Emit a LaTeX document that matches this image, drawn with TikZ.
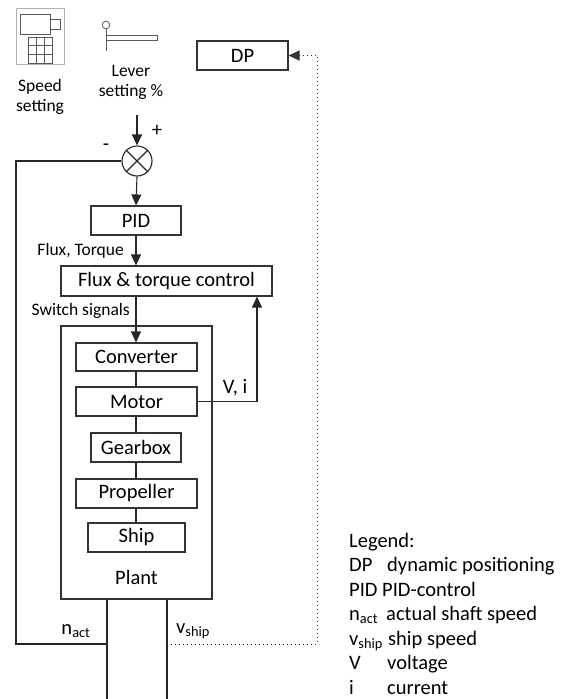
\documentclass[tikz,border=0pt]{standalone}
\usepackage{fontspec}
\setmainfont{Carlito}
\usetikzlibrary{arrows.meta}
\newcommand\fL{\fontsize{20.5}{24.5}\selectfont}
\newcommand\fS{\fontsize{17.5}{20}\selectfont}
\begin{document}
\begin{tikzpicture}[x=1pt,y=-1pt,
  bx/.style={draw=black!80, line width=1.1pt, inner sep=0pt, font=\fL},
  conn/.style={draw=black!85, line width=1.1pt},
  arr/.style={conn, -{Triangle[length=11pt,width=10pt]}},
  dots/.style={draw=black!80, line width=1pt, dash pattern=on 0.8pt off 3.2pt, -{Triangle[length=11pt,width=10pt]}},
  lbl/.style={inner sep=0pt, font=\fL},
  slbl/.style={inner sep=0pt, font=\fS, align=center},
  icon/.style={draw=black!65, line width=0.8pt}]
\useasboundingbox (0,0) rectangle (567,699);

% speed setting icon
\draw[draw=black!30, line width=0.8pt] (16,8) rectangle (64,64);
\draw[icon] (20,14) rectangle (50,34);
\draw[icon] (50,19) rectangle (60,29);
\draw[icon] (28,37) rectangle (52,63);
\draw[icon] (36,37) -- (36,63) (44,37) -- (44,63) (28,45.7) -- (52,45.7) (28,54.3) -- (52,54.3);
\node[slbl] (speed) at (40,97) {Speed\\setting};

% lever icon
\draw[icon] (106,25) circle (3.8);
\draw[icon] (106,28.8) -- (106,51);
\draw[icon] (106,35) rectangle (157,40);
\node[slbl] (lever) at (131,82) {Lever\\setting \%};

% DP
\node[bx, minimum width=91, minimum height=29] (dp) at (242.5,55.5) {DP};

% summation
\node[circle, draw=black!85, line width=1.1pt, minimum size=30, inner sep=0pt] (sum) at (137,161) {};
\draw[conn] (sum.north west) -- (sum.south east) (sum.north east) -- (sum.south west);
\coordinate (in) at (137,115);
\draw[arr] (in) -- (sum.north);
\node[lbl] (plus) at (157,131) {+};
\node[lbl] (minus) at (106,147) {-};

% PID
\node[bx, minimum width=90, minimum height=29] (pid) at (136,220.5) {PID};
\draw[arr] (sum.south) -- (pid.north);

% flux
\node[bx, minimum width=211, minimum height=30] (flux) at (166.5,281) {Flux \& torque control};
\draw[arr] (pid.south) -- (pid.south |- flux.north);
\node[slbl, anchor=east] (fxt) at (124,251) {Flux, Torque};

% plant
\node[bx, minimum width=151, minimum height=273] (plant) at (136.5,462.5) {};
\node[lbl] (plantlbl) at (136.5,577) {Plant};
\node[slbl, anchor=east] (sw) at (130,311) {Switch signals};

\node[bx, minimum width=121, minimum height=28] (conv) at (136.5,357) {Converter};
\node[bx, minimum width=121, minimum height=29] (motor) at (136.5,401.5) {Motor};
\node[bx, minimum width=90, minimum height=29] (gear) at (136,447.5) {Gearbox};
\node[bx, minimum width=121, minimum height=29] (prop) at (136.5,493.5) {Propeller};
\node[bx, minimum width=97, minimum height=29] (ship) at (136.5,537.5) {Ship};

\draw[arr] (flux.south -| pid.south) -- (pid.south |- conv.north);
\draw[conn] (conv.south -| pid.south) -- (pid.south |- motor.north);
\draw[conn] (motor.south -| pid.south) -- (pid.south |- gear.north);
\draw[conn] (gear.south) -- (gear.south |- prop.north);
\draw[conn] (prop.south -| gear.south) -- (gear.south |- ship.north);

% V, i feedback
\coordinate (vi) at (257,401.5);
\draw[arr] (motor.east) -- (vi) -- (vi |- flux.south);
\node[lbl] (vilbl) at (235,388) {V, i};

% outputs
\coordinate (nb) at (107,599);
\coordinate (ne) at (107,699);
\coordinate (vb) at (167,599);
\coordinate (ve) at (167,699);
\draw[conn] (nb) -- (ne);
\draw[conn] (vb) -- (ve);
\coordinate (nf) at (107,644);
\coordinate (fc) at (16,644);
\coordinate (ft) at (16,161);
\draw[conn] (nf) -- (fc) -- (ft) -- (sum.west);
\node[lbl] (nact) at (76,631) {n\textsubscript{act}};
\node[lbl] (vship) at (193,631) {v\textsubscript{ship}};

\coordinate (vf) at (167,644);
\coordinate (d1) at (317,644);
\coordinate (d2) at (317,55.5);
\draw[dots] (vf) -- (d1) -- (d2) -- (dp.east);

% legend
\node[lbl, anchor=base west] (lg) at (349,547) {Legend:};
\node[lbl, anchor=base west] (la1) at (349,571.5) {DP};
\node[lbl, anchor=base west] (lb1) at (387,571.5) {dynamic positioning};
\node[lbl, anchor=base west] (la2) at (349,596) {PID};
\node[lbl, anchor=base west] (lb2) at (382,596) {PID-control};
\node[lbl, anchor=base west] (la3) at (349,620.5) {n\textsubscript{act}};
\node[lbl, anchor=base west] (lb3) at (386,620.5) {actual shaft speed};
\node[lbl, anchor=base west] (la4) at (349,645) {v\textsubscript{ship}};
\node[lbl, anchor=base west] (lb4) at (388,645) {ship speed};
\node[lbl, anchor=base west] (la5) at (349,669.5) {V};
\node[lbl, anchor=base west] (lb5) at (387,669.5) {voltage};
\node[lbl, anchor=base west] (la6) at (349,694) {i};
\node[lbl, anchor=base west] (lb6) at (387,694) {current};
\end{tikzpicture}
\end{document}
